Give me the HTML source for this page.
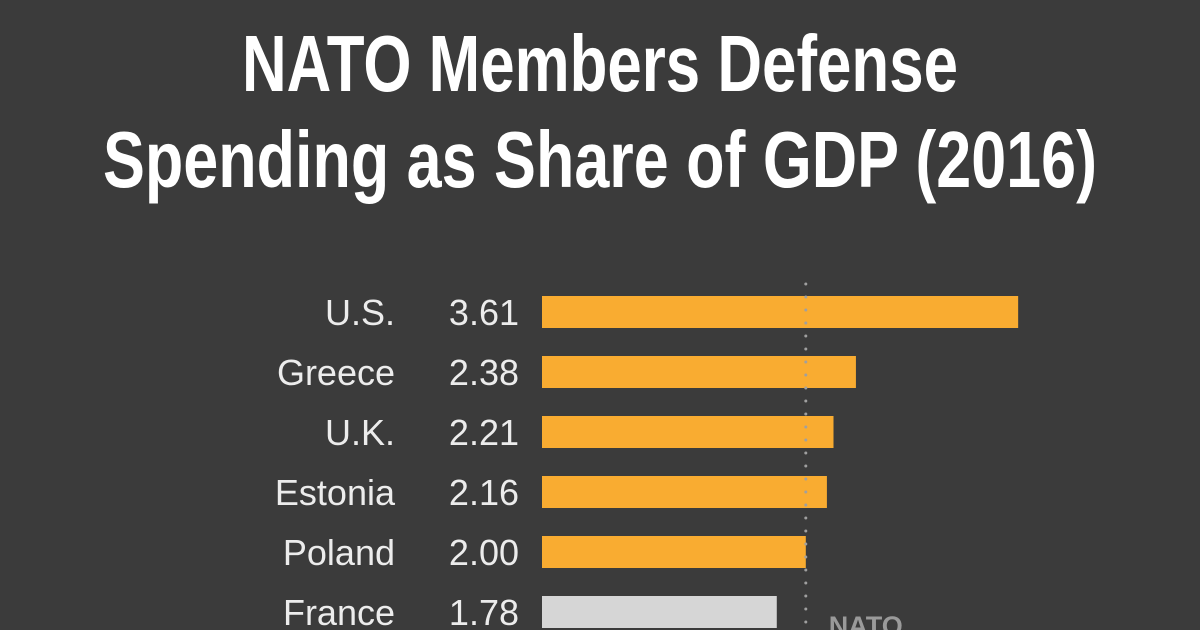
<!DOCTYPE html>
<html><head><meta charset="utf-8"><style>
html,body{margin:0;padding:0;background:#3b3b3b;}
svg{display:block;}
</style></head><body>
<svg id="chart" width="1200" height="630" viewBox="0 0 1200 630" xmlns="http://www.w3.org/2000/svg" font-family="Liberation Sans, sans-serif">
<rect width="1200" height="630" fill="#3b3b3b"/>
<text x="242" y="91" textLength="716" lengthAdjust="spacingAndGlyphs" font-size="80" font-weight="bold" fill="#fff">NATO Members Defense</text>
<text x="103" y="187" textLength="994" lengthAdjust="spacingAndGlyphs" font-size="80" font-weight="bold" fill="#fff">Spending as Share of GDP (2016)</text>
<g id="marks"></g>
</svg>
<script>
const countries = ["U.S.","Greece","U.K.","Estonia","Poland","France"];
const values = [3.61,2.38,2.21,2.16,2.00,1.78];
const labels = ["3.61","2.38","2.21","2.16","2.00","1.78"];
const target = 2.0;
const x0 = 542, pxPerUnit = 131.9;
function xs(v){return x0 + v*pxPerUnit;}
function ys(i){return 312 + i*60;}
const NS="http://www.w3.org/2000/svg";
const g=document.getElementById('marks');
function mk(t,a){const e=document.createElementNS(NS,t);for(const k in a)e.setAttribute(k,a[k]);g.appendChild(e);return e;}
countries.forEach((c,i)=>{
  const y=ys(i);
  const b=mk('rect',{x:x0,y:y-16,width:xs(values[i])-x0,height:32,fill:values[i]>=target?'#f9ac31':'#d6d6d6'});
  
  
  const t=mk('text',{x:395,y:y+13,'text-anchor':'end','font-size':36,fill:'#ececec'});
  t.textContent=c;
  
  
  const v=mk('text',{x:519,y:y+13,'text-anchor':'end','font-size':36,fill:'#ececec'});
  v.textContent=labels[i];
  
  
});
const tx=xs(target);
const l=mk('line',{x1:tx,y1:284,x2:tx,y2:630,stroke:'#a0a0a0','stroke-width':3,'stroke-dasharray':'0 13','stroke-linecap':'round'});


const n=mk('text',{x:tx+23,y:635,'font-size':27,'font-weight':'bold',fill:'#9a9a9a'});
n.textContent='NATO';


</script>
</body></html>
